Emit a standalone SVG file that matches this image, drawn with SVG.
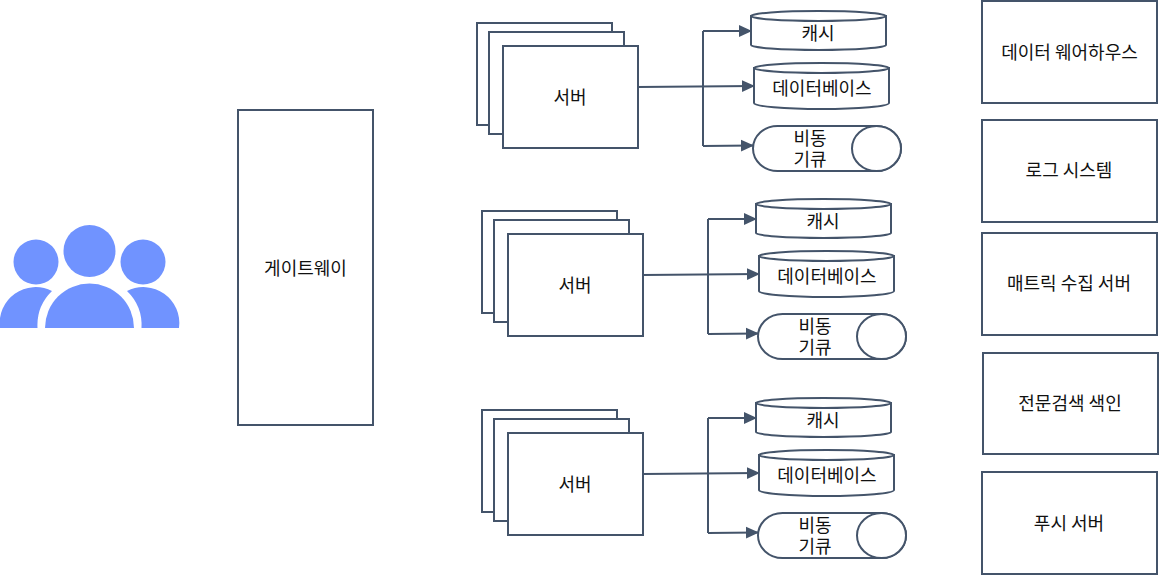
<svg xmlns="http://www.w3.org/2000/svg" width="1159" height="575" viewBox="0 0 1159 575">
<style>
.b{fill:#fff;stroke:#44546a;stroke-width:2}
.c{fill:none;stroke:#44546a;stroke-width:2}
text{font-family:"Noto Sans CJK KR","Noto Sans",sans-serif;font-size:18px;fill:#111;text-anchor:middle}
.u{fill:#7093ff}
</style>
<defs>
<marker id="a" markerUnits="userSpaceOnUse" markerWidth="13" markerHeight="14" refX="12" refY="7" orient="auto"><path d="M0 1L13 7L0 13Z" fill="#44546a"/></marker>
<g id="stack"><rect class="b" x="477" y="23" width="135" height="102"/><rect class="b" x="489" y="32" width="135" height="102"/><rect class="b" x="503" y="46" width="135" height="102"/><text x="570" y="104">서버</text></g>
<g id="cache"><path class="b" d="M751 16V45A67.500 5 0 0 0 886 45V16Z"/><ellipse class="b" cx="818.500" cy="16" rx="67.500" ry="5"/><text x="818" y="40">캐시</text></g>
<g id="db"><path class="b" d="M754 68V103A67.500 6 0 0 0 889 103V68Z"/><ellipse class="b" cx="821.500" cy="68" rx="67.500" ry="5"/><text x="822" y="95">데이터베이스</text></g>
<g id="queue"><rect class="b" x="753" y="126" width="148" height="45" rx="24.500" ry="22.500"/><ellipse class="b" cx="876.500" cy="148.500" rx="24.500" ry="22.500"/><text x="810" y="145">비동</text><text x="810" y="166">기큐</text></g>
</defs>
<g id="users">
<circle class="u" cx="36" cy="262" r="22.500"/><circle class="u" cx="89.500" cy="251" r="26"/><circle class="u" cx="143" cy="262" r="22.500"/>
<path class="u" d="M0 328A36 36 0 0 1 52 291A48 48 0 0 0 37.500 328Z"/>
<path class="u" d="M45 328A44.500 44.500 0 0 1 134 328Z"/>
<path class="u" d="M179 328A36 36 0 0 0 127 291A48 48 0 0 1 141.500 328Z"/>
</g>
<g id="gateway"><rect class="b" x="238" y="110" width="135" height="315"/><text x="305.500" y="275">게이트웨이</text></g>
<g id="connectors">
<g id="c1"><path class="c" d="M703 31H751" marker-end="url(#a)"/><path class="c" d="M638 87L754 86" marker-end="url(#a)"/><path class="c" d="M703 146L753 145.500" marker-end="url(#a)"/><path class="c" d="M703 31V146"/></g>
<g id="c2" transform="translate(5 188)"><path class="c" d="M703 31H751" marker-end="url(#a)"/><path class="c" d="M638 87L754 86" marker-end="url(#a)"/><path class="c" d="M703 146L753 145.500" marker-end="url(#a)"/><path class="c" d="M703 31V146"/></g>
<g id="c3" transform="translate(5 387)"><path class="c" d="M703 31H751" marker-end="url(#a)"/><path class="c" d="M638 87L754 86" marker-end="url(#a)"/><path class="c" d="M703 146L753 145.500" marker-end="url(#a)"/><path class="c" d="M703 31V146"/></g>
</g>
<g id="server1"><use href="#stack"/></g><g id="cache1"><use href="#cache"/></g><g id="db1"><use href="#db"/></g><g id="queue1"><use href="#queue"/></g>
<g id="server2" transform="translate(5 188)"><use href="#stack"/></g><g id="cache2" transform="translate(5 188)"><use href="#cache"/></g><g id="db2" transform="translate(5 188)"><use href="#db"/></g><g id="queue2" transform="translate(5 188)"><use href="#queue"/></g>
<g id="server3" transform="translate(5 387)"><use href="#stack"/></g><g id="cache3" transform="translate(5 387)"><use href="#cache"/></g><g id="db3" transform="translate(5 387)"><use href="#db"/></g><g id="queue3" transform="translate(5 387)"><use href="#queue"/></g>
<g id="warehouse"><rect class="b" x="982" y="1" width="175" height="102"/><text x="1069.500" y="59">데이터 웨어하우스</text></g>
<g id="log"><rect class="b" x="982" y="120" width="175" height="102"/><text x="1069" y="177">로그 시스템</text></g>
<g id="metric"><rect class="b" x="982" y="233" width="175" height="102"/><text x="1069" y="290">매트릭 수집 서버</text></g>
<g id="search"><rect class="b" x="983" y="353" width="175" height="101"/><text x="1070" y="410">전문검색 색인</text></g>
<g id="push"><rect class="b" x="982" y="472" width="175" height="102"/><text x="1069" y="530">푸시 서버</text></g>
</svg>
